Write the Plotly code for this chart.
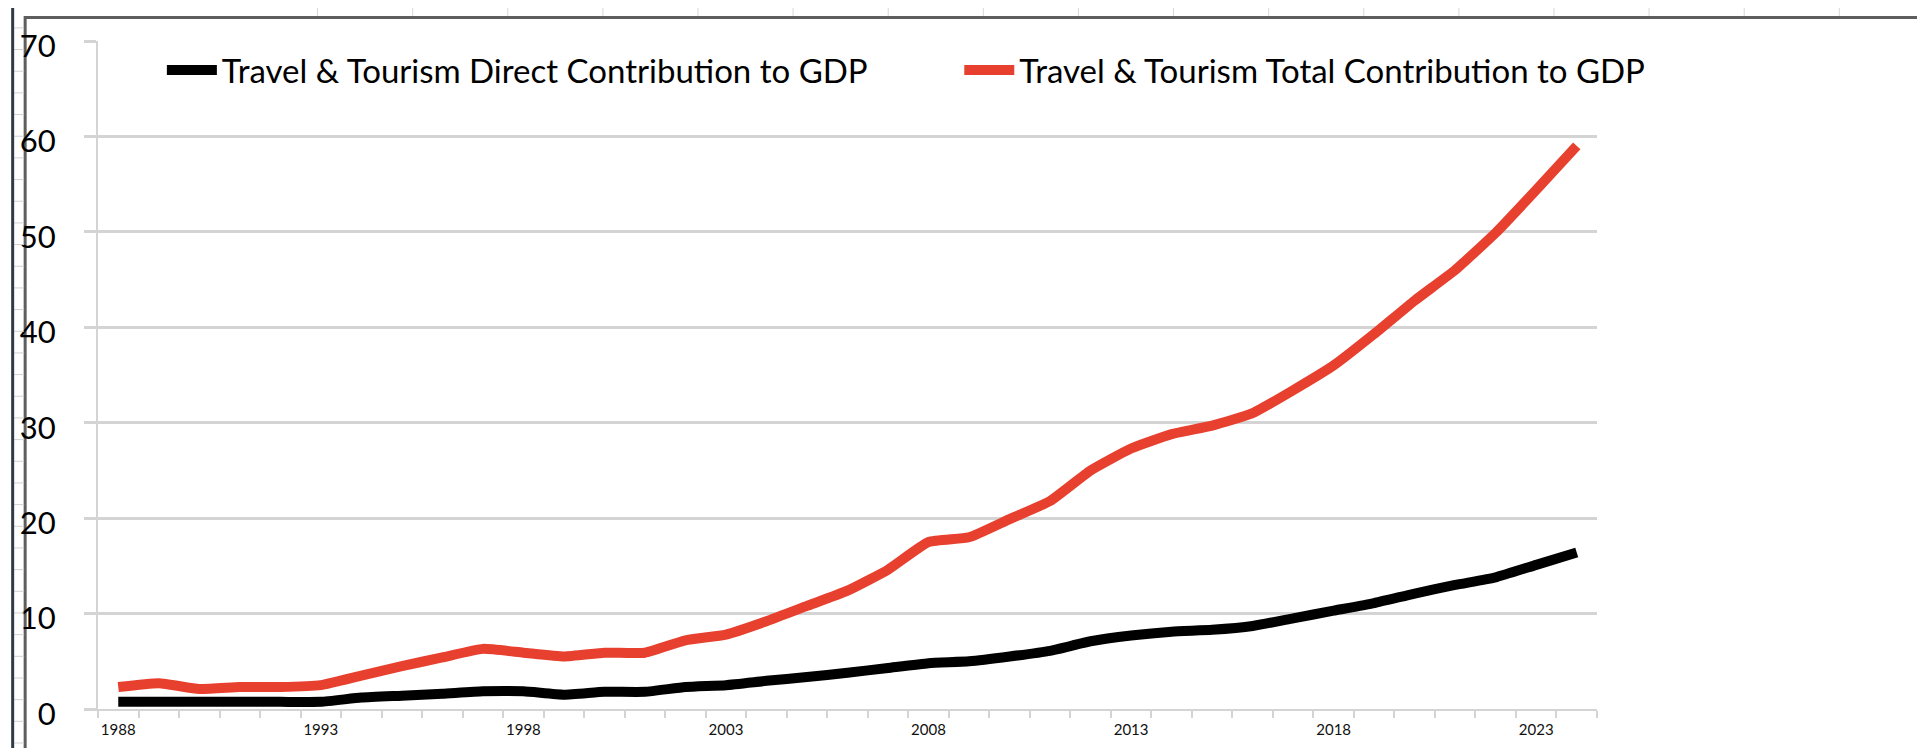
import plotly.graph_objects as go

# ---------------- data ----------------
years = list(range(1988, 2025))
direct = [0.75, 0.75, 0.75, 0.75, 0.75, 0.75, 1.2, 1.4, 1.6, 1.85,
          1.85, 1.5, 1.8, 1.8, 2.3, 2.5, 2.95, 3.35, 3.8, 4.3,
          4.8, 5.0, 5.5, 6.1, 7.1, 7.7, 8.1, 8.3, 8.7, 9.5,
          10.3, 11.1, 12.1, 13.0, 13.8, 15.1, 16.4]
total = [2.3, 2.7, 2.1, 2.3, 2.3, 2.5, 3.5, 4.5, 5.4, 6.3,
         5.9, 5.5, 5.9, 5.9, 7.2, 7.8, 9.2, 10.8, 12.4, 14.6,
         17.5, 18.0, 19.9, 21.8, 25.0, 27.3, 28.8, 29.7, 31.0, 33.4,
         36.0, 39.3, 42.8, 46.0, 49.9, 54.4, 59.0]
series_names = ["Travel & Tourism Direct Contribution to GDP",
                "Travel & Tourism Total Contribution to GDP"]
x_tick_years = [1988, 1993, 1998, 2003, 2008, 2013, 2018, 2023]
y_ticks = [0, 10, 20, 30, 40, 50, 60, 70]

# ---------------- geometry ----------------
W, H = 1925, 748
L, R, T, B = 87, 1589, 33, 701


def px(x):
    return (x - L) / (R - L)


def py(y):
    return (B - y) / (B - T)


FONT = "Lato"
GRID = "#D4D4D4"

fig = go.Figure()
fig.add_trace(go.Scatter(
    x=years, y=direct, mode="lines", name=series_names[0], legend="legend",
    line=dict(color="#000000", width=10, shape="spline", smoothing=0.45)))
fig.add_trace(go.Scatter(
    x=years, y=total, mode="lines", name=series_names[1], legend="legend2",
    line=dict(color="#E8402F", width=10, shape="spline", smoothing=0.45)))

shapes = []
# spreadsheet background hints
col = 307.0
while col < W:
    shapes.append(dict(type="line", xref="paper", yref="paper",
                       x0=px(col), x1=px(col), y0=py(0), y1=py(8),
                       line=dict(color="#D8D8D8", width=1)))
    col += 95.3
row = 583.3
while row > 0:
    row -= 21.67
rowy = row + 21.67
while rowy < H:
    shapes.append(dict(type="line", xref="paper", yref="paper",
                       x0=px(3), x1=px(13), y0=py(rowy), y1=py(rowy),
                       line=dict(color="#D0D0D0", width=1)))
    shapes.append(dict(type="line", xref="paper", yref="paper",
                       x0=px(1918), x1=px(W), y0=py(rowy), y1=py(rowy),
                       line=dict(color="#D0D0D0", width=1)))
    rowy += 21.67
shapes.append(dict(type="rect", xref="paper", yref="paper",
                   x0=px(0), x1=px(3), y0=py(H), y1=py(0),
                   fillcolor="#2E3A46", line=dict(width=0)))
shapes.append(dict(type="rect", xref="paper", yref="paper", layer="below",
                   x0=px(14), x1=px(1916.5), y0=py(743), y1=py(9.5),
                   fillcolor="white", line=dict(color="#5E5E5E", width=3)))

legend_common = dict(orientation="h", yanchor="middle", xanchor="left",
                     bgcolor="rgba(0,0,0,0)", itemwidth=50,
                     font=dict(family=FONT, size=33, color="black"))

fig.update_layout(
    width=W, height=H,
    margin=dict(l=L, r=W - R, t=T, b=H - B, pad=0),
    paper_bgcolor="white", plot_bgcolor="rgba(0,0,0,0)",
    font=dict(family=FONT, color="black"),
    shapes=shapes,
    showlegend=True,
    legend=dict(x=px(151), y=py(62), **legend_common),
    legend2=dict(x=px(950), y=py(62), **legend_common),
    xaxis=dict(range=[1987.5, 2024.5], tickmode="array",
               tickvals=x_tick_years, ticktext=[str(v) for v in x_tick_years],
               ticks="", showgrid=False, zeroline=False,
               showline=True, linecolor=GRID, linewidth=2,
               tickfont=dict(family=FONT, size=15, color="#111111"),
               ticklabelstandoff=6,
               minor=dict(ticks="outside", tick0=1987.5, dtick=1, ticklen=7,
                          tickcolor=GRID, tickwidth=2, showgrid=False)),
    yaxis=dict(range=[0, 70], tickmode="array", tickvals=y_ticks,
               showgrid=True, gridcolor=GRID, gridwidth=2.5, zeroline=False,
               showline=True, linecolor=GRID, linewidth=2,
               ticks="outside", ticklen=12, tickcolor=GRID, tickwidth=2.5,
               tickfont=dict(family=FONT, size=31, color="black"),
               ticklabelstandoff=22, ticklabelshift=5),
)

fig.write_html("out.html")
